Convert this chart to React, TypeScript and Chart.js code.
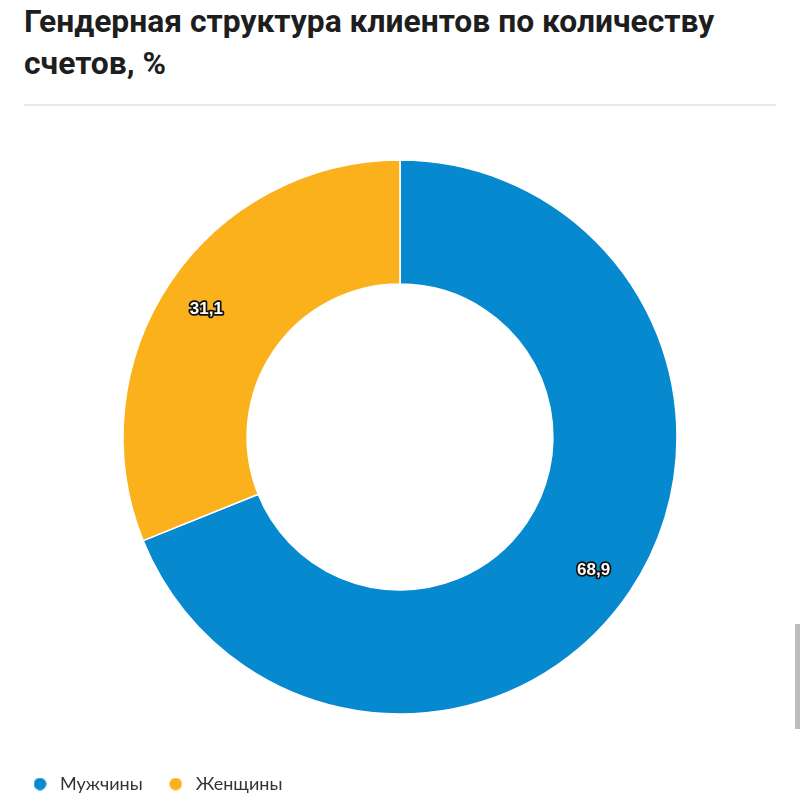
import React, { useEffect, useRef } from "react";
import { Chart, registerables } from "chart.js";

Chart.register(...registerables);

const titleLines = ["Гендерная структура клиентов по количеству", "счетов, %"];
const categories = ["Мужчины", "Женщины"];
const shares = [68.9, 31.1];
const colors = ["#0789cf", "#fbb11b"];

function dot(color: string): HTMLCanvasElement {
  const c = document.createElement("canvas");
  c.width = 13;
  c.height = 13;
  const g = c.getContext("2d")!;
  g.fillStyle = color;
  g.beginPath();
  g.arc(6.5, 6.5, 6.2, 0, Math.PI * 2);
  g.fill();
  return c;
}

const labelPlugin = {
  id: "sliceLabels",
  afterDatasetsDraw(chart: any) {
    const ctx = chart.ctx;
    const meta = chart.getDatasetMeta(0);
    ctx.save();
    ctx.font = "bold 17px 'Liberation Sans', Arial, sans-serif";
    ctx.textAlign = "center";
    ctx.textBaseline = "middle";
    ctx.lineJoin = "round";
    meta.data.forEach((arc: any, i: number) => {
      const p = arc.getProps(["x", "y", "startAngle", "endAngle", "innerRadius", "outerRadius"], true);
      const mid = (p.startAngle + p.endAngle) / 2;
      const r = p.innerRadius + (p.outerRadius - p.innerRadius) * 0.65;
      const x = p.x + Math.cos(mid) * r;
      const y = p.y + Math.sin(mid) * r + 3;
      const txt = String(shares[i]).replace(".", ",");
      ctx.lineWidth = 3.5;
      ctx.strokeStyle = "#111";
      ctx.strokeText(txt, x, y);
      ctx.fillStyle = "#fff";
      ctx.fillText(txt, x, y);
    });
    ctx.restore();
  },
};

export default function App() {
  const ref = useRef<HTMLCanvasElement>(null);

  useEffect(() => {
    document.body.style.margin = "0";
    const dots = colors.map(dot);
    const chart = new Chart(ref.current!, {
      type: "doughnut",
      data: {
        labels: categories,
        datasets: [
          {
            data: shares,
            backgroundColor: colors,
            borderColor: "#ffffff",
            borderWidth: 1.5,
            radius: 277,
            cutout: "55.2%",
          } as any,
        ],
      },
      options: {
        responsive: false,
        animation: false,
        maintainAspectRatio: false,
        layout: { padding: { top: 11, left: 7, right: 7, bottom: 0 } },
        plugins: {
          tooltip: { enabled: false },
          legend: {
            position: "bottom",
            align: "start",
            labels: {
              usePointStyle: true,
              boxWidth: 22,
              boxHeight: 12,
              pointStyleWidth: 22,
              padding: 22,
              color: "#333333",
              font: { size: 18, family: "Lato, 'Noto Sans', sans-serif" },
              generateLabels: (ch: any) =>
                ch.data.labels.map((t: string, i: number) => ({
                  text: t,
                  fillStyle: colors[i],
                  strokeStyle: colors[i],
                  lineWidth: 0,
                  pointStyle: dots[i],
                  fontColor: "#333333",
                  hidden: false,
                  index: i,
                })),
            },
          } as any,
        },
      },
      plugins: [labelPlugin],
    });
    return () => chart.destroy();
  }, []);

  return (
    <div style={{ position: "relative", width: 800, height: 803, background: "#fff", overflow: "hidden" }}>
      <div
        style={{
          position: "absolute",
          left: 24,
          top: 0,
          fontFamily: "Roboto, 'Noto Sans', sans-serif",
          fontWeight: 700,
          fontSize: 31.8,
          lineHeight: "42px",
          color: "#1e1e1e",
          whiteSpace: "nowrap",
        }}
      >
        {titleLines.map((t, i) => (
          <div key={i}>{t}</div>
        ))}
      </div>
      <div style={{ position: "absolute", left: 24, top: 104, width: 752, height: 2, background: "#e8e8e8" }} />
      <canvas ref={ref} width={800} height={693} style={{ position: "absolute", left: 0, top: 110 }} />
      <div style={{ position: "absolute", left: 795, top: 624, width: 5, height: 105, background: "#bdbdbd" }} />
    </div>
  );
}
